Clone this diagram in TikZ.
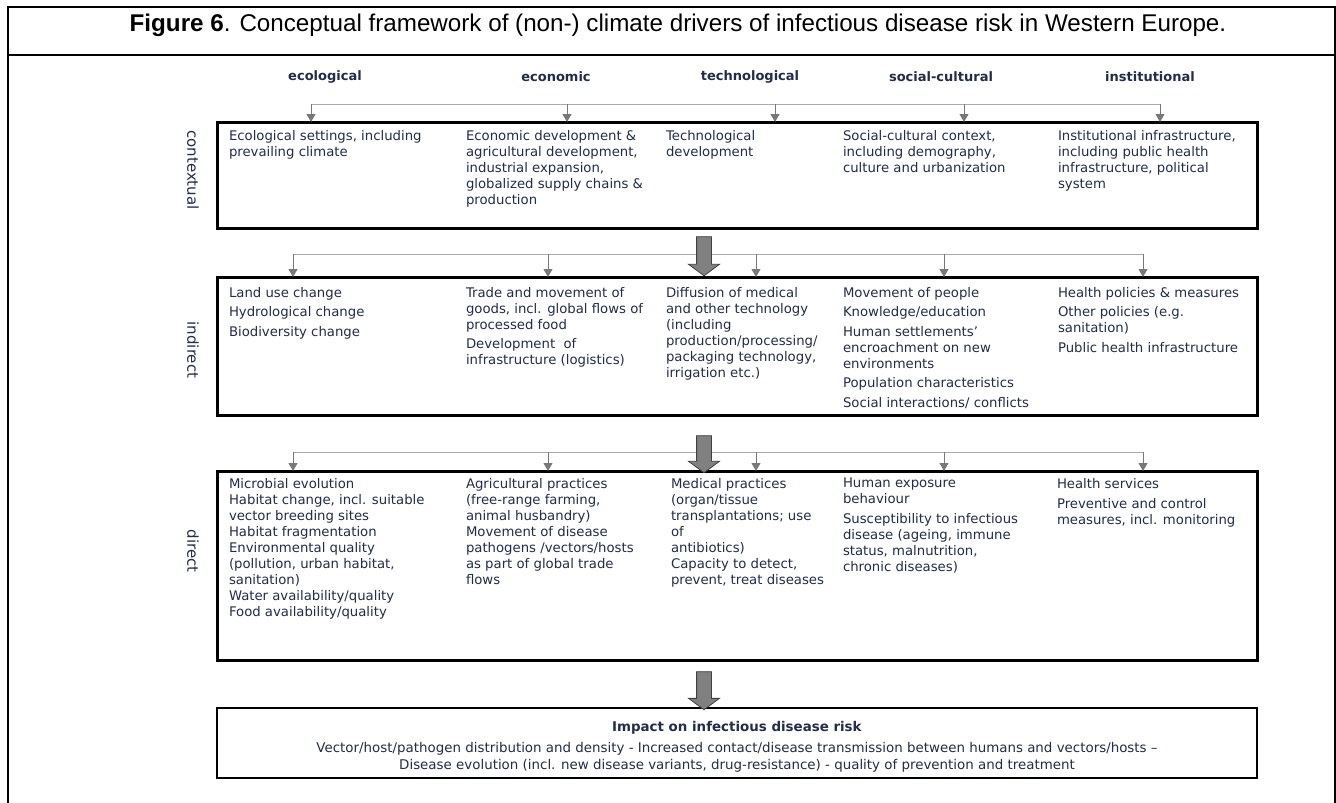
\documentclass[tikz,border=0pt]{standalone}
\usepackage{fontspec}
\setmainfont{DejaVu Sans}
\newfontfamily\titlefont{Liberation Sans}
\usetikzlibrary{arrows.meta, backgrounds, positioning, shapes.arrows}

\definecolor{navy}{RGB}{35,45,72}
\definecolor{busgray}{RGB}{170,170,170}
\definecolor{dropgray}{RGB}{120,120,120}
\definecolor{divgray}{RGB}{64,64,64}
\definecolor{fatgray}{RGB}{128,128,128}

\begin{document}
\begin{tikzpicture}[x=1pt, y=-1pt, font=\fontsize{13.25}{16}\selectfont]
\tikzset{every node/.style={inner sep=0pt, outer sep=0pt}}

\tikzstyle{row box}=[rectangle, draw=black, line width=3pt, minimum width=1040pt, anchor=north west]
\tikzstyle{cell}=[anchor=north west, align=left, text=navy]
\tikzstyle{header}=[text=navy, font=\fontsize{13}{16}\selectfont\bfseries]
\tikzstyle{row label}=[text=navy, rotate=-90, font=\fontsize{15}{18}\selectfont]
\tikzstyle{title}=[anchor=base, text=black, font=\titlefont\fontsize{24.2}{28}\selectfont]
\tikzstyle{impact text}=[align=center, text=navy, font=\fontsize{13.4}{17}\selectfont]
\tikzstyle{frame line}=[line width=2pt, draw=black]
\tikzstyle{divider}=[line width=1.2pt, draw=divgray]
\tikzstyle{bus}=[line width=1pt, draw=busgray]
\tikzstyle{drop}=[->, >={Triangle[width=9pt,length=8pt]}, line width=1pt, draw=dropgray, fill=dropgray]
\tikzstyle{fat arrow}=[single arrow, shape border rotate=270, draw=divgray, fill=fatgray, line width=0.8pt, inner sep=7pt, single arrow head extend=8pt, single arrow tip angle=107]

\fill[white] (0,0) rectangle (1336,803);
\useasboundingbox (0,0) rectangle (1336,803);

% frame and title
\draw[frame line] (8,803) -- (8,7) -- (1335,7) -- (1335,803);
\draw[frame line] (8,55) -- (1335,55);
\node[title] (fig title) at (678,31) {\textbf{Figure 6}. Conceptual framework of (non-) climate drivers of infectious disease risk in Western Europe.};

% column headers
\node[header] (ecological head) at (325,77) {ecological};
\node[header] (economic head) at (556,77) {economic};
\node[header] (technological head) at (750,77) {technological};
\node[header] (social head) at (941,77) {social-cultural};
\node[header] (institutional head) at (1150,77) {institutional};

% row boxes
\node[row box, minimum height=106pt] (context box) at (217,122) {};
\node[row box, minimum height=138pt, below=49pt of context box] (indirect box) {};
\node[row box, minimum height=189pt, below=56pt of indirect box] (direct box) {};
\node[row box, minimum height=70pt, line width=2pt, below=48pt of direct box] (impact box) {};

\begin{scope}[on background layer]
\foreach \b in {context box, indirect box, direct box} {
    \foreach \d in {237,445,624,831} {
        \draw[divider] ([xshift=\d pt]\b.north west) -- ([xshift=\d pt]\b.south west);
    };
};
\end{scope}

\node[row label] (contextual label) at (193,170) {contextual};
\node[row label] (indirect label) at (193,350) {indirect};
\node[row label] (direct label) at (193,551) {direct};

% contextual cells
\node[cell] (eco context) at ([shift={(12,8)}]context box.north west) {Ecological settings, including\\prevailing climate};
\node[cell] (econ context) at ([shift={(249,8)}]context box.north west) {Economic development \&\\agricultural development,\\industrial expansion,\\globalized supply chains \&\\production};
\node[cell] (tech context) at ([shift={(449,8)}]context box.north west) {Technological\\development};
\node[cell] (soc context) at ([shift={(626,8)}]context box.north west) {Social-cultural context,\\including demography,\\culture and urbanization};
\node[cell] (inst context) at ([shift={(841,8)}]context box.north west) {Institutional infrastructure,\\including public health\\infrastructure, political\\system};

% indirect cells
\node[cell] (eco indirect) at ([shift={(12,10)}]indirect box.north west) {Land use change\\[3.5pt]Hydrological change\\[3.5pt]Biodiversity change};
\node[cell] (econ indirect) at ([shift={(249,10)}]indirect box.north west) {Trade and movement of\\goods, incl. global flows of\\processed food\\[3.5pt]Development~ of\\infrastructure (logistics)};
\node[cell] (tech indirect) at ([shift={(449,10)}]indirect box.north west) {Diffusion of medical\\and other technology\\(including\\production/processing/\\packaging technology,\\irrigation etc.)};
\node[cell] (soc indirect) at ([shift={(626,10)}]indirect box.north west) {Movement of people\\[3.5pt]Knowledge/education\\[3.5pt]Human settlements’\\encroachment on new\\environments\\[3.5pt]Population characteristics\\[3.5pt]Social interactions/ conflicts};
\node[cell] (inst indirect) at ([shift={(841,10)}]indirect box.north west) {Health policies \& measures\\[3.5pt]Other policies (e.g.\\sanitation)\\[3.5pt]Public health infrastructure};

% direct cells
\node[cell] (eco direct) at ([shift={(12,7)}]direct box.north west) {Microbial evolution\\Habitat change, incl. suitable\\vector breeding sites\\Habitat fragmentation\\Environmental quality\\(pollution, urban habitat,\\sanitation)\\Water availability/quality\\Food availability/quality};
\node[cell] (econ direct) at ([shift={(249,7)}]direct box.north west) {Agricultural practices\\(free-range farming,\\animal husbandry)\\Movement of disease\\pathogens /vectors/hosts\\as part of global trade\\flows};
\node[cell] (tech direct) at ([shift={(454,7)}]direct box.north west) {Medical practices\\(organ/tissue\\transplantations; use\\of\\antibiotics)\\Capacity to detect,\\prevent, treat diseases};
\node[cell] (soc direct) at ([shift={(626,7)}]direct box.north west) {Human exposure\\behaviour\\[3.5pt]Susceptibility to infectious\\disease (ageing, immune\\status, malnutrition,\\chronic diseases)};
\node[cell] (inst direct) at ([shift={(840,7)}]direct box.north west) {Health services\\[4pt]Preventive and control\\measures, incl. monitoring};

% impact
\node[impact text] (impact text) at ([yshift=-4pt]impact box.center) {\textbf{Impact on infectious disease risk}\\[4pt]Vector/host/pathogen distribution and density - Increased contact/disease transmission between humans and vectors/hosts –\\Disease evolution (incl. new disease variants, drug-resistance) - quality of prevention and treatment};

% buses and drops
\coordinate (context bus west) at (311,104);
\coordinate (context bus east) at (1160,104);
\coordinate (indirect bus west) at (293,254);
\coordinate (indirect bus east) at (1143,254);
\coordinate (direct bus west) at (293,452);
\coordinate (direct bus east) at (1143,452);

\draw[bus] (context bus west) -- (context bus east);
\foreach \x in {311,567,775,964,1160}
    \draw[drop] (\x,0 |- context bus west) -- (\x,0 |- context box.north);

\draw[bus] (indirect bus west) -- (indirect bus east);
\foreach \x in {293,548,756,944,1143}
    \draw[drop] (\x,0 |- indirect bus west) -- (\x,0 |- indirect box.north);

\draw[bus] (direct bus west) -- (direct bus east);
\foreach \x in {293,548,756,944,1143}
    \draw[drop] (\x,0 |- direct bus west) -- (\x,0 |- direct box.north);

% big arrows between levels
\node[fat arrow, minimum height=39pt] (context flow) at (704,253.5) {};
\node[fat arrow, minimum height=37pt] (indirect flow) at (704,451.5) {};
\node[fat arrow, minimum height=38pt] (direct flow) at (704,688) {};

\end{tikzpicture}
\end{document}
